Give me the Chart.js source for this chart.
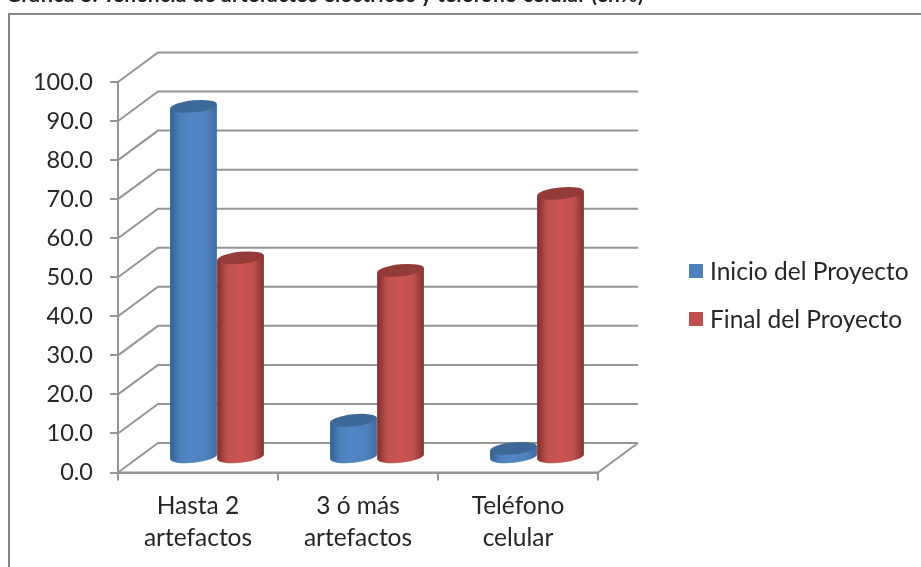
<!DOCTYPE html>
<html lang="es">
<head>
<meta charset="utf-8">
<style>
html,body{margin:0;padding:0;background:#fff;overflow:hidden}
#wrap{position:relative;width:921px;height:567px;overflow:hidden;filter:blur(0.35px)}
canvas{position:absolute;left:0;top:0}
#cut{position:absolute;left:6px;top:-19px;font:bold 21px Lato,sans-serif;color:#222;white-space:nowrap;letter-spacing:.25px}
#frame{position:absolute;left:8px;top:13px;width:1000px;height:700px;border:2.5px solid #868686;box-sizing:border-box}
</style>
</head>
<body>
<div id="wrap">
<div id="cut">Gráfica 8. Tenencia de artefactos eléctricos y teléfono celular (en%)</div>
<div id="frame"></div>
<canvas id="c" width="921" height="567"></canvas>
</div>
<script src="https://cdn.jsdelivr.net/npm/chart.js@4"></script>
<script>
const categories = [["Hasta 2","artefactos"],["3 ó más","artefactos"],["Teléfono","celular"]];
const inicioValues = [90, 9.6, 2.4];
const finalValues = [51.2, 48, 67.7];
const seriesNames = ["Inicio del Proyecto","Final del Proyecto"];
const blueShades = {edge:"#305f94",mid:"#5185c5",edge2:"#3a6ba3",cap:"#3d6998",flat:"#4f81bd"};
const redShades = {edge:"#7d2f2d",mid:"#cc5452",edge2:"#82312f",cap:"#933b39",flat:"#c0504d"};
const gridColor = "#959595";
const textColor = "#262626";
const depthX = 40, depthY = 29.5, barShiftX = 19;
const tilt = -0.1, capRy = 6;
const legendRows = [272, 320];

const wall3d = {
  id:"wall3d",
  beforeDatasetsDraw(chart){
    const {ctx,scales:{x,y}} = chart;
    const L = x.left, R = x.right;
    ctx.save();
    ctx.strokeStyle = gridColor; ctx.lineWidth = 2;
    y.ticks.forEach(t=>{
      const py = y.getPixelForValue(t.value);
      ctx.beginPath();
      ctx.moveTo(L,py);
      ctx.lineTo(L+depthX,py-depthY);
      ctx.lineTo(R+depthX,py-depthY);
      ctx.stroke();
    });
    const p0 = y.getPixelForValue(0);
    ctx.beginPath();
    ctx.moveTo(L,p0); ctx.lineTo(R,p0); ctx.lineTo(R+depthX,p0-depthY);
    ctx.stroke();
    ctx.restore();
    chart.data.datasets.forEach((ds,i)=>{
      const shades = i===0 ? blueShades : redShades;
      chart.getDatasetMeta(i).data.forEach(el=>{
        const cx = el.x+barShiftX, a = el.width/2;
        const ty = el.y-depthY/2, by = el.base-depthY/2;
        const dx = a*Math.cos(tilt), dy = a*Math.sin(tilt);
        const g = ctx.createLinearGradient(cx-a,0,cx+a,0);
        g.addColorStop(0,shades.edge);
        g.addColorStop(0.22,shades.flat);
        g.addColorStop(0.5,shades.mid);
        g.addColorStop(0.78,shades.flat);
        g.addColorStop(1,shades.edge2);
        ctx.save();
        ctx.beginPath();
        ctx.moveTo(cx-dx,ty-dy);
        ctx.lineTo(cx-dx,by-dy);
        ctx.ellipse(cx,by,a,capRy,tilt,Math.PI,0,true);
        ctx.lineTo(cx+dx,ty+dy);
        ctx.closePath();
        ctx.fillStyle = g; ctx.fill();
        ctx.beginPath();
        ctx.ellipse(cx,ty,a,capRy,tilt,0,Math.PI*2);
        ctx.fillStyle = shades.cap; ctx.fill();
        ctx.restore();
      });
    });
    return false;
  },
  afterDraw(chart){
    const {ctx} = chart;
    ctx.save();
    chart.data.datasets.forEach((ds,i)=>{
      const rowY = legendRows[i];
      ctx.fillStyle = ds.backgroundColor;
      ctx.fillRect(689,rowY-8,14,14);
      ctx.fillStyle = textColor;
      ctx.font = "24.5px Lato";
      ctx.textBaseline = "middle";
      ctx.textAlign = "left";
      ctx.fillText(ds.label,710,rowY);
    });
    ctx.restore();
  }
};

new Chart(document.getElementById("c"),{
  type:"bar",
  data:{
    labels:categories,
    datasets:[
      {label:seriesNames[0],data:inicioValues,backgroundColor:blueShades.flat,borderWidth:0},
      {label:seriesNames[1],data:finalValues,backgroundColor:redShades.flat,borderWidth:0}
    ]
  },
  options:{
    responsive:false,
    animation:false,
    layout:{padding:{left:0,top:82,right:323,bottom:0}},
    datasets:{bar:{categoryPercentage:0.5875,barPercentage:1}},
    plugins:{
      title:{display:false},
      tooltip:{enabled:false},
      legend:{display:false}
    },
    scales:{
      x:{
        afterFit(s){s.height=94.5;},
        grid:{display:true,drawOnChartArea:false,drawTicks:true,tickLength:8,color:gridColor,lineWidth:2},
        border:{display:true,color:gridColor,width:2},
        ticks:{font:{family:"Lato",size:24.5,lineHeight:1.3},color:textColor,padding:10,maxRotation:0,autoSkip:false}
      },
      y:{
        min:0,max:100,
        afterFit(s){s.width=118;},
        grid:{display:true,drawOnChartArea:false,drawTicks:true,tickLength:8,color:gridColor,lineWidth:2},
        border:{display:true,color:gridColor,width:2},
        ticks:{stepSize:10,font:{family:"Lato",size:23.5},color:textColor,padding:17,callback:v=>v.toFixed(1)}
      }
    }
  },
  plugins:[wall3d]
});
</script>
</body>
</html>
